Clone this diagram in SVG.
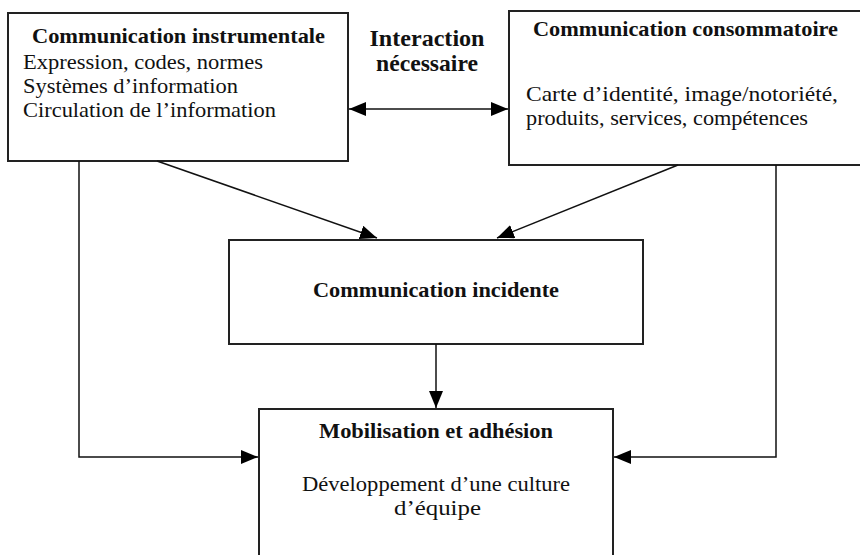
<svg xmlns="http://www.w3.org/2000/svg" width="860" height="555" viewBox="0 0 860 555">
  <style>
    .box { fill: #ffffff; stroke: #222222; stroke-width: 2; }
    .link { fill: none; stroke: #111111; stroke-width: 1.5; }
    text { font-family: 'Times New Roman', 'Liberation Serif', Tinos, serif; font-size: 21.5px; fill: #111111; }
    .b { font-weight: bold; }
    .c { text-anchor: middle; }
  </style>
  <defs>
    <marker id="arrow" viewBox="0 0 17 14" refX="17" refY="7" markerWidth="17" markerHeight="14" markerUnits="userSpaceOnUse" orient="auto-start-reverse">
      <path d="M0,0 L17,7 L0,14 Z" fill="#000000"/>
    </marker>
  </defs>

  <rect width="860" height="555" fill="#ffffff"/>

  <g id="instrumentale">
    <rect class="box" x="8" y="13" width="340" height="148"/>
    <text class="b" x="32" y="43" textLength="293" lengthAdjust="spacingAndGlyphs">Communication instrumentale</text>
    <text x="23" y="69" textLength="240" lengthAdjust="spacingAndGlyphs">Expression, codes, normes</text>
    <text x="23" y="93" textLength="215" lengthAdjust="spacingAndGlyphs">Systèmes d’information</text>
    <text x="23" y="117" textLength="253" lengthAdjust="spacingAndGlyphs">Circulation de l’information</text>
  </g>

  <g id="interaction">
    <text class="b c" x="427" y="46" style="font-size:23.5px" textLength="115" lengthAdjust="spacingAndGlyphs">Interaction</text>
    <text class="b c" x="427" y="71" style="font-size:23.5px" textLength="102" lengthAdjust="spacingAndGlyphs">nécessaire</text>
  </g>

  <g id="consommatoire">
    <rect class="box" x="509" y="11" width="370" height="154"/>
    <text class="b" x="533" y="36" textLength="305" lengthAdjust="spacingAndGlyphs">Communication consommatoire</text>
    <text x="526" y="101" textLength="312" lengthAdjust="spacingAndGlyphs">Carte d’identité, image/notoriété,</text>
    <text x="526" y="125" textLength="282" lengthAdjust="spacingAndGlyphs">produits, services, compétences</text>
  </g>

  <g id="incidente">
    <rect class="box" x="229" y="240" width="414" height="104"/>
    <text class="b" x="313" y="297" textLength="246" lengthAdjust="spacingAndGlyphs">Communication incidente</text>
  </g>

  <g id="mobilisation">
    <rect class="box" x="259" y="409" width="354" height="160"/>
    <text class="b" x="319" y="438" textLength="234" lengthAdjust="spacingAndGlyphs">Mobilisation et adhésion</text>
    <text x="302" y="491" textLength="268" lengthAdjust="spacingAndGlyphs">Développement d’une culture</text>
    <text x="394" y="515" textLength="87" lengthAdjust="spacingAndGlyphs">d’équipe</text>
  </g>

  <g id="connectors">
    <line class="link" x1="349" y1="109" x2="508" y2="109" marker-start="url(#arrow)" marker-end="url(#arrow)"/>
    <line class="link" x1="157" y1="161" x2="377" y2="238" marker-end="url(#arrow)"/>
    <line class="link" x1="678" y1="165" x2="497" y2="238" marker-end="url(#arrow)"/>
    <line class="link" x1="436" y1="344" x2="436" y2="408" marker-end="url(#arrow)"/>
    <polyline class="link" points="79,161 79,457 258,457" marker-end="url(#arrow)"/>
    <polyline class="link" points="776,165 776,457 614,457" marker-end="url(#arrow)"/>
  </g>
</svg>
